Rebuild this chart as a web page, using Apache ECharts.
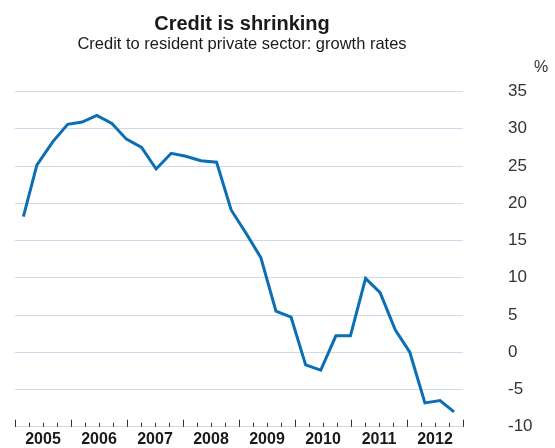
<!DOCTYPE html>
<html>
<head>
<meta charset="utf-8">
<script src="https://cdn.jsdelivr.net/npm/echarts@6/dist/echarts.min.js"></script>
<style>
  html, body { margin: 0; padding: 0; background: #fff; }
  #chart { width: 555px; height: 448px; }
</style>
</head>
<body>
<div id="chart"></div>
<script>
// time in decimal years, growth in %
const dates = [2005.15, 2005.39, 2005.67, 2005.94, 2006.20, 2006.46, 2006.73, 2006.99,
  2007.26, 2007.52, 2007.79, 2008.05, 2008.32, 2008.60, 2008.86, 2009.14, 2009.39,
  2009.66, 2009.93, 2010.19, 2010.46, 2010.73, 2010.99, 2011.26, 2011.52, 2011.79,
  2012.05, 2012.32, 2012.59, 2012.84]
const growth = [18.2, 25.1, 28.2, 30.6, 30.9, 31.8, 30.7, 28.6, 27.5, 24.6, 26.7, 26.3,
  25.7, 25.5, 19.1, 15.8, 12.7, 5.5, 4.7, -1.7, -2.4, 2.2, 2.2, 9.9, 8.0, 3.0, 0.0,
  -6.8, -6.5, -8.0]
const years = ['2005', '2006', '2007', '2008', '2009', '2010', '2011', '2012']

const font = 'Liberation Sans, Arial, Helvetica, sans-serif'
const gridBlue = '#cddaee'

const chart = echarts.init(document.getElementById('chart'), null, { renderer: 'canvas' })
chart.setOption({
  animation: false,
  backgroundColor: '#ffffff',
  textStyle: { fontFamily: font },
  title: {
    text: 'Credit is shrinking',
    subtext: 'Credit to resident private sector: growth rates',
    left: 237, top: 9, textAlign: 'center', itemGap: 2,
    textStyle: { fontFamily: font, fontSize: 20, fontWeight: 'bold', color: '#1a1a1a' },
    subtextStyle: { fontFamily: font, fontSize: 16.5, color: '#1a1a1a' }
  },
  grid: { left: 15, right: 92, top: 91.5, bottom: 21.3, containLabel: false },
  xAxis: [
    {
      type: 'value', min: 2005, max: 2013, interval: 0.25,
      axisLine: { show: true, onZero: false, lineStyle: { color: gridBlue, width: 1 } },
      axisTick: { show: true, inside: true, length: 4, lineStyle: { color: '#333' } },
      axisLabel: { show: false },
      splitLine: { show: false }
    },
    {
      type: 'category', data: years, position: 'bottom', boundaryGap: true,
      axisLine: { show: false, onZero: false },
      axisTick: { show: true, inside: true, length: 7, interval: 0, lineStyle: { color: '#333' } },
      axisLabel: { fontFamily: font, fontSize: 16, fontWeight: 'bold', color: '#1a1a1a', margin: 5, interval: 0 },
      splitLine: { show: false }
    }
  ],
  yAxis: {
    type: 'value', position: 'right', min: -10, max: 35, interval: 5,
    name: '%', nameLocation: 'end', nameGap: 16,
    nameTextStyle: { fontFamily: font, fontSize: 16, color: '#333', align: 'left', padding: [0, 0, 0, 71] },
    axisLine: { show: false },
    axisTick: { show: false },
    axisLabel: { fontFamily: font, fontSize: 17, color: '#333', margin: 45 },
    splitLine: { show: true, lineStyle: { color: gridBlue, width: 1 } }
  },
  series: [{
    type: 'line',
    xAxisIndex: 0,
    data: dates.map((d, i) => [d, growth[i]]),
    showSymbol: false,
    lineStyle: { color: '#0a6fb5', width: 3, join: 'miter' },
    itemStyle: { color: '#0a6fb5' }
  }]
})
</script>
</body>
</html>
